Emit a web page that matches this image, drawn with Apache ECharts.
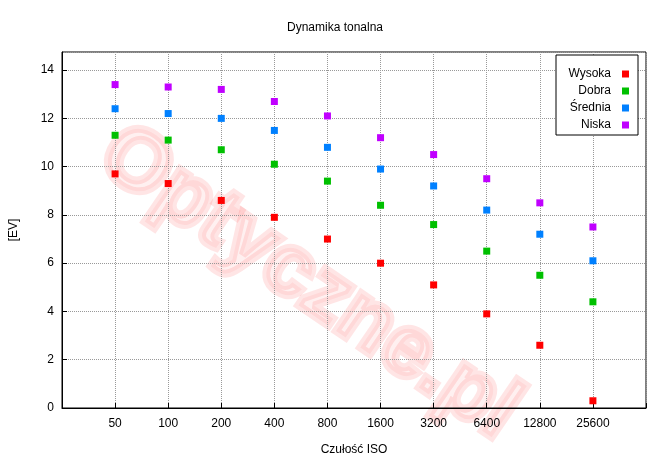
<!DOCTYPE html>
<html>
<head>
<meta charset="utf-8">
<script src="https://cdn.jsdelivr.net/npm/echarts@6/dist/echarts.min.js"></script>
<style>body{margin:0}#c{width:670px;height:463px}</style>
</head>
<body>
<div id="c"></div>
<script>
var isoLabels = ['50','100','200','400','800','1600','3200','6400','12800','25600'];
var wysoka = [9.7, 9.3, 8.6, 7.9, 7.0, 6.0, 5.1, 3.9, 2.6, 0.3];
var dobra = [11.3, 11.1, 10.7, 10.1, 9.4, 8.4, 7.6, 6.5, 5.5, 4.4];
var srednia = [12.4, 12.2, 12.0, 11.5, 10.8, 9.9, 9.2, 8.2, 7.2, 6.1];
var niska = [13.4, 13.3, 13.2, 12.7, 12.1, 11.2, 10.5, 9.5, 8.5, 7.5];

function pts(arr){ return arr.map(function(v,i){ return [i+1, v]; }); }
function ser(name, arr, color){
  return {name:name, type:'scatter', symbol:'rect', symbolSize:7, itemStyle:{color:color, opacity:1}, data:pts(arr)};
}
var chart = echarts.init(document.getElementById('c'));
chart.setOption({
  animation:false,
  textStyle:{fontFamily:'Liberation Sans, Arial'},
  title:{text:'Dynamika tonalna', left:'center', top:17, textStyle:{fontSize:12, fontWeight:'normal', color:'#000'}},
  graphic:[{type:'text', left:78, top:105, rotation:-0.6, z:-1, style:{text:'Optyczne.pl', fontSize:86, fontWeight:'bold', fill:'rgba(255,0,0,0.06)', stroke:'rgba(255,0,0,0.1)', lineWidth:8}},
    {type:'rect', shape:{x:556,y:55,width:82,height:80}, style:{fill:'#fff', stroke:'#000', lineWidth:1}, z:5}],
  legend:{orient:'vertical', right:36, top:63, itemGap:5, itemWidth:7, itemHeight:7, align:'right', icon:'rect', z:10,
    textStyle:{fontSize:12, color:'#000', padding:[0,6,0,0]}, data:['Wysoka','Dobra','Średnia','Niska']},
  grid:{left:62, right:24, top:52, bottom:55, show:true, borderColor:'#000', borderWidth:1},
  xAxis:{type:'value', min:0, max:11, interval:1,
    name:'Czułość ISO', nameLocation:'middle', nameGap:36, nameTextStyle:{fontSize:12, color:'#000'},
    axisLine:{lineStyle:{color:'#000'}}, axisTick:{inside:true, length:5, lineStyle:{color:'#000'}},
    axisLabel:{color:'#000', fontSize:12, margin:10, formatter:function(v){ return (v>=1&&v<=10)?isoLabels[v-1]:''; }},
    splitLine:{show:true, lineStyle:{type:'dotted', color:'#999'}}},
  yAxis:{type:'value', min:0, max:14.75, interval:2,
    name:'[EV]', nameLocation:'middle', nameGap:42, nameTextStyle:{fontSize:12, color:'#000'},
    axisLine:{show:true, lineStyle:{color:'#000'}}, axisTick:{show:true, inside:true, length:5, lineStyle:{color:'#000'}},
    axisLabel:{color:'#000', fontSize:12, showMaxLabel:false},
    splitLine:{show:true, lineStyle:{type:'dotted', color:'#999'}}},
  series:[ser('Wysoka', wysoka, '#ff0000'), ser('Dobra', dobra, '#00c000'), ser('Średnia', srednia, '#0080ff'), ser('Niska', niska, '#c000ff')]
});
</script>
</body>
</html>
